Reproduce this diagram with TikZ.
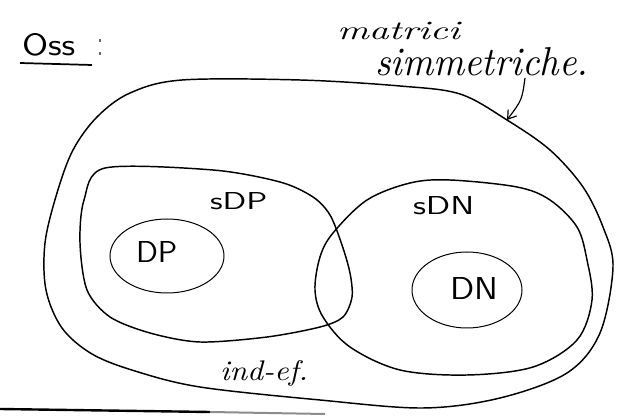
\documentclass[tikz,border=0pt]{standalone}
\usepackage{graphicx}
\usetikzlibrary{arrows.meta}
\newcommand{\fitbox}[3]{\resizebox{#1}{#2}{#3}}
\tikzset{
  px/.style={x=0.75pt,y=-0.75pt},
  loopline/.style={line width=1.1pt,line join=round},
  thinloop/.style={line width=0.75pt},
  lbl/.style={inner sep=0pt,outer sep=0pt,anchor=base west},
}
\begin{document}
\begin{tikzpicture}[px]
\useasboundingbox (0,0) rectangle (629,416);
% header
\node[lbl] (oss) at (22,56) {\fitbox{40pt}{16.5pt}{\sffamily Oss}};
\node[lbl] (colon) at (98,56) {\fitbox{3pt}{12pt}{\sffamily :}};
\coordinate (ulA) at (20,63);
\coordinate (ulB) at (92,65);
\draw[line width=1.3pt] (ulA) -- (ulB);
\node[lbl] (matrici) at (337,40) {\fitbox{92pt}{13pt}{\itshape matrici}};
\node[lbl] (simm) at (375,76) {\fitbox{160pt}{21pt}{\itshape simmetriche.}};
% outer set
\draw[loopline] plot[smooth cycle,tension=0.55] coordinates {
 (182,80) (300,80) (400,86) (460,94) (507,120) (550,150) (583,187) (603,227)
 (613,267) (600,333) (567,373) (500,398) (423,408) (320,400) (200,387)
 (135,371) (92,354) (62,328) (46,290) (45,243) (57,193) (73,150) (97,117) (130,93)};
\coordinate (tip) at (507,120);
\coordinate (astart) at (525,78);
\draw[line width=0.9pt,-{Straight Barb[length=6pt,width=8pt]}] (astart) .. controls (522,100) .. (tip);
% sDP
\draw[loopline] plot[smooth cycle,tension=0.5] coordinates {
 (105,168) (213,170) (280,182) (313,197) (330,215) (342,245) (350,273) (352,297)
 (343,317) (320,327) (267,337) (200,342) (150,333) (110,317) (87,290) (80,243) (84,200)};
% sDN
\draw[loopline] plot[smooth cycle,tension=0.55] coordinates {
 (367,200) (410,183) (450,180) (517,187) (550,200) (577,227) (587,260) (592,300)
 (577,340) (533,367) (467,375) (400,370) (350,347) (323,317) (315,290) (320,257) (333,233)};
% DP, DN
\draw[thinloop] (167,256) ellipse [x radius=57, y radius=37];
\draw[thinloop] (467,290) ellipse [x radius=55, y radius=38];
% labels
\node[lbl] (sdp) at (210,210) {\fitbox{43pt}{12.75pt}{\sffamily sDP}};
\node[lbl] (sdn) at (413,215) {\fitbox{46pt}{13.5pt}{\sffamily sDN}};
\node[lbl] (dp) at (136,263) {\fitbox{31pt}{15.75pt}{\sffamily DP}};
\node[lbl] (dn) at (450,300) {\fitbox{36pt}{16.5pt}{\sffamily DN}};
\node[lbl] (indef) at (220,381) {\fitbox{66pt}{15pt}{\itshape ind-ef.}};
% bottom edge line
\coordinate (bA) at (0,409);
\coordinate (bB) at (210,412);
\coordinate (bC) at (325,414);
\draw[line width=1.8pt] (bA) -- (bB);
\draw[line width=1.5pt,black!45] (bB) -- (bC);
\end{tikzpicture}
\end{document}
